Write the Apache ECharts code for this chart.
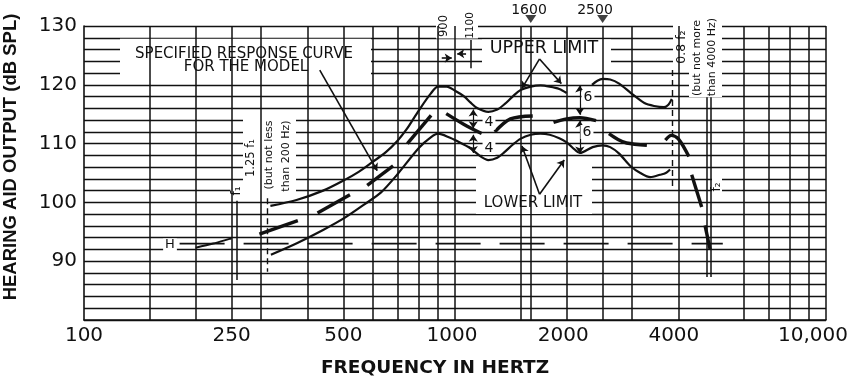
<!DOCTYPE html>
<html><head><meta charset="utf-8">
<script src="https://cdn.jsdelivr.net/npm/echarts@6/dist/echarts.min.js"></script>
<style>html,body{margin:0;padding:0;background:#fff}#c{width:856px;height:380px}</style>
</head><body><div id="c"></div>
<script>
// ---------- data ----------
const xTickLabels = [100, 250, 500, 1000, 2000, 4000, 10000];
const yTickLabels = [90, 100, 110, 120, 130];
const xGridFreqs = [150, 200, 250, 300, 400, 500, 600, 700, 800, 900, 1000, 1500, 1600, 2000, 2500, 3000, 4000, 6000, 7000, 8000, 9000, 10000];

const upperLimitA = [[318,99.4],[374,100.4],[441,102.0],[500,103.7],[550,105.2],[600,106.9],[650,108.5],[700,110.5],[740,112.4],[800,115.7],[860,118.5],[900,119.7],[950,119.7],[1000,119.0],[1060,118.0],[1100,117.0],[1150,116.0],[1230,115.4],[1300,115.8],[1360,116.7],[1430,118.0],[1500,119.1],[1600,119.7],[1700,119.9],[1800,119.7],[1910,119.3],[2000,118.6]];
const upperLimitB = [[2340,120.0],[2420,120.7],[2500,121.0],[2620,120.9],[2770,120.2],[2980,118.6],[3240,116.9],[3440,116.4],[3660,116.2],[3760,116.6],[3840,117.6]];
const lowerLimit = [[319,91.1],[376,93.1],[441,95.3],[505,97.4],[574,99.8],[632,101.7],[700,104.8],[800,109.3],[862,111.1],[900,111.7],[970,111.0],[1000,110.6],[1100,109.2],[1180,107.7],[1230,107.2],[1300,107.6],[1357,108.5],[1430,109.8],[1500,110.8],[1600,111.5],[1700,111.7],[1800,111.5],[1910,110.9],[2000,110.2],[2100,109.0],[2170,108.4],[2350,109.4],[2500,109.7],[2620,109.4],[2770,108.3],[2980,106.1],[3160,105.0],[3360,104.3],[3570,104.7],[3700,105.0],[3800,105.6]];
const specBelowF1 = [[200,92.3],[223,93.0],[250,93.9]];
const specDashes = [
  [[297,94.6],[377,96.9]],
  [[426,98.2],[521,101.3]],
  [[580,102.9],[681,106.2]],
  [[744,110.0],[862,114.8]],
  [[947,115.1],[1055,113.3],[1180,111.7]],
  [[1280,112.0],[1411,114.2],[1620,114.7]],
  [[1843,113.6],[2000,114.2],[2170,114.4],[2400,113.9]],
  [[2600,111.7],[2750,110.7],[2900,110.1],[3290,109.7]],
  [[3690,110.6],[3830,111.4],[4000,110.8],[4270,107.8]],
  [[4345,104.7],[4623,99.2]],
  [[4720,96.1],[4870,92.0]]
];
const hLine = [[181,93],[5270,93]];
// reference frequency markers
const f1Second = 258, f2Lines = [4770, 4890], f125 = 312, f08 = 3840, f1100 = 1100;
const topMarkers = [[1600,130],[2500,130]];

// ---------- chart ----------
const INK = '#111';
const FONT = '"DejaVu Sans", sans-serif';
const chart = echarts.init(document.getElementById('c'), null, {renderer: 'canvas'});

function curve(data, width, z) {
  return {type: 'line', data: data, symbol: 'none', showSymbol: false, smooth: 0.3, silent: true,
          animation: false, clip: false, z: z || 5, lineStyle: {color: INK, width: width}};
}
function vseg(f, a, b) { return [{coord: [f, a]}, {coord: [f, b]}]; }
function seg(p, q) { return [{coord: p}, {coord: q}]; }
function mlSeries(data, style, symbols, z) {
  return {type: 'line', data: [], silent: true, animation: false, z: z || 4,
    markLine: {silent: true, animation: false, symbol: symbols || ['none','none'], symbolSize: 7,
      label: {show: false}, emphasis: {disabled: true}, lineStyle: style, data: data}};
}

const series = [];
series.push(mlSeries(xGridFreqs.map(f => ({xAxis: f})), {color: INK, width: 1.5, type: 'solid'}, null, 1));
series.push(mlSeries([vseg(f1Second, 100.3, 86.8), vseg(f2Lines[0], 117.9, 87.3), vseg(f2Lines[1], 117.9, 87.3), vseg(f1100, 127.6, 122.8)],
  {color: INK, width: 1.5, type: 'solid'}));
series.push(mlSeries([vseg(f125, 100.7, 88.2), vseg(f08, 122.5, 102.6)], {color: INK, width: 1.4, type: [6, 4]}));
series.push(Object.assign(curve(hLine, 1.6, 4), {smooth: false, lineStyle: {color: INK, width: 1.7, type: [45, 19]}}));
series.push(curve(upperLimitA, 2.2));
series.push(curve(upperLimitB, 2.2));
series.push(curve(lowerLimit, 2.2));
series.push(curve(specBelowF1, 2));
specDashes.forEach(d => series.push(curve(d, 3.4, 6)));
series.push(mlSeries([
  seg([432,122.5],[617,105.4]),
  seg([1690,124.4],[1515,119.4]), seg([1690,124.4],[1935,120.2]),
  seg([1690,101.4],[1515,109.6]), seg([1690,101.4],[1970,107.2]),
  seg([921,124.55],[980,124.55]), seg([1071,125.3],[1014,125.3])
], {color: INK, width: 1.6, type: 'solid'}, ['none', 'arrow'], 7));
series.push(mlSeries([
  vseg(1120,115.8,112.6), vseg(1120,111.5,108.4), vseg(2170,119.9,114.9), vseg(2170,113.9,108.3)
], {color: INK, width: 1.2, type: 'solid'}, ['arrow', 'arrow'], 7));
series.push({type: 'scatter', data: topMarkers, symbol: 'triangle', symbolRotate: 180, symbolSize: [11, 8],
  symbolOffset: [0, -7], itemStyle: {color: INK}, clip: false, silent: true, animation: false, z: 8});

function rect(x, y, w, h) { return {type: 'rect', z: 3, silent: true, shape: {x: x, y: y, width: w, height: h}, style: {fill: '#fff'}}; }
function txt(t, x, y, size, opts) {
  opts = opts || {};
  return {type: 'text', z: 10, silent: true, x: x, y: y, rotation: opts.rot || 0,
    style: Object.assign({text: t, fill: INK, fontSize: size, fontFamily: opts.family || FONT, fontWeight: opts.weight || 'normal',
      align: 'center', verticalAlign: 'middle'}, opts.bg ? {backgroundColor: '#fff', padding: [0, 2]} : {})};
}
const R = Math.PI / 2;
const graphics = [
  rect(120, 38.8, 251, 44.5),
  rect(482, 39.5, 129, 24),
  rect(476, 163, 116, 51),
  rect(243, 117, 53, 79),
  rect(673, 10, 16, 62),
  rect(689, 10, 33, 87),
  rect(436, 8, 42, 30.5),
  rect(230.5, 181, 12.5, 18),
  rect(712, 177, 10, 20),
  txt('SPECIFIED RESPONSE CURVE', 244, 54, 15),
  txt('FOR THE MODEL', 246, 67, 15),
  txt('UPPER LIMIT', 544, 48.5, 17.5),
  txt('LOWER LIMIT', 533, 203.5, 15),
  txt('1600', 529, 10, 14),
  txt('2500', 595, 10, 14),
  txt('900', 444, 26, 11.5, {rot: R}),
  txt('1100', 470, 25.5, 10.5, {rot: R}),
  txt('0.8 f\u2082', 682, 47, 12.5, {rot: R}),
  txt('(but not more', 697, 58, 11, {rot: R}),
  txt('than 4000 Hz)', 712, 57, 11, {rot: R}),
  txt('1.25 f\u2081', 251, 158, 11.5, {rot: R}),
  txt('(but not less', 269, 155, 11, {rot: R}),
  txt('than 200 Hz)', 286, 156, 11, {rot: R}),
  txt('f\u2081', 237, 191, 12, {rot: R}),
  txt('f\u2082', 716.5, 187, 12, {rot: R}),
  txt('4', 489, 122.5, 14, {bg: true}),
  txt('4', 489, 148, 14, {bg: true}),
  txt('6', 588, 97, 14, {bg: true}),
  txt('6', 587, 132, 14, {bg: true}),
  txt('H', 170, 245, 13, {bg: true}),
  txt('FREQUENCY IN HERTZ', 435, 368, 18.5, {weight: 'bold'}),
  txt('HEARING AID OUTPUT (dB SPL)', 11, 157, 18.5, {rot: R, weight: 'bold', family: '"Liberation Sans", Arial, sans-serif'})
];

const shift = {1000: 6, 2000: 7, 4000: 9, 10000: 26};
const option = {
  backgroundColor: '#fff',
  animation: false,
  grid: {left: 84, right: 30, top: 26, bottom: 60, containLabel: false},
  xAxis: {
    type: 'log', logBase: 10, min: 100, max: 10000,
    axisLine: {show: true, lineStyle: {color: INK, width: 1.6}},
    axisTick: {show: false},
    splitLine: {show: false},
    minorSplitLine: {show: false},
    axisLabel: {
      customValues: xTickLabels, margin: 6, color: INK, fontSize: 20, fontFamily: FONT,
      formatter: function (v) {
        const s = v === 10000 ? '10,000' : String(Math.round(v));
        return shift[v] ? '{s' + v + '|' + s + '}' : s;
      },
      rich: Object.fromEntries(Object.keys(shift).map(k => ['s' + k, {fontSize: 20, fontFamily: FONT, color: INK, padding: [0, shift[k], 0, 0]}]))
    }
  },
  yAxis: {
    type: 'value', min: 80, max: 130, interval: 2,
    axisLine: {show: true, lineStyle: {color: INK, width: 1.6}},
    axisTick: {show: false},
    splitLine: {show: true, lineStyle: {color: INK, width: 1.4}},
    axisLabel: {margin: 7, color: INK, fontSize: 20, fontFamily: FONT,
      formatter: v => (yTickLabels.indexOf(v) >= 0 ? String(v) : '')}
  },
  series: series,
  graphic: {elements: graphics}
};
chart.setOption(option);
</script></body></html>
